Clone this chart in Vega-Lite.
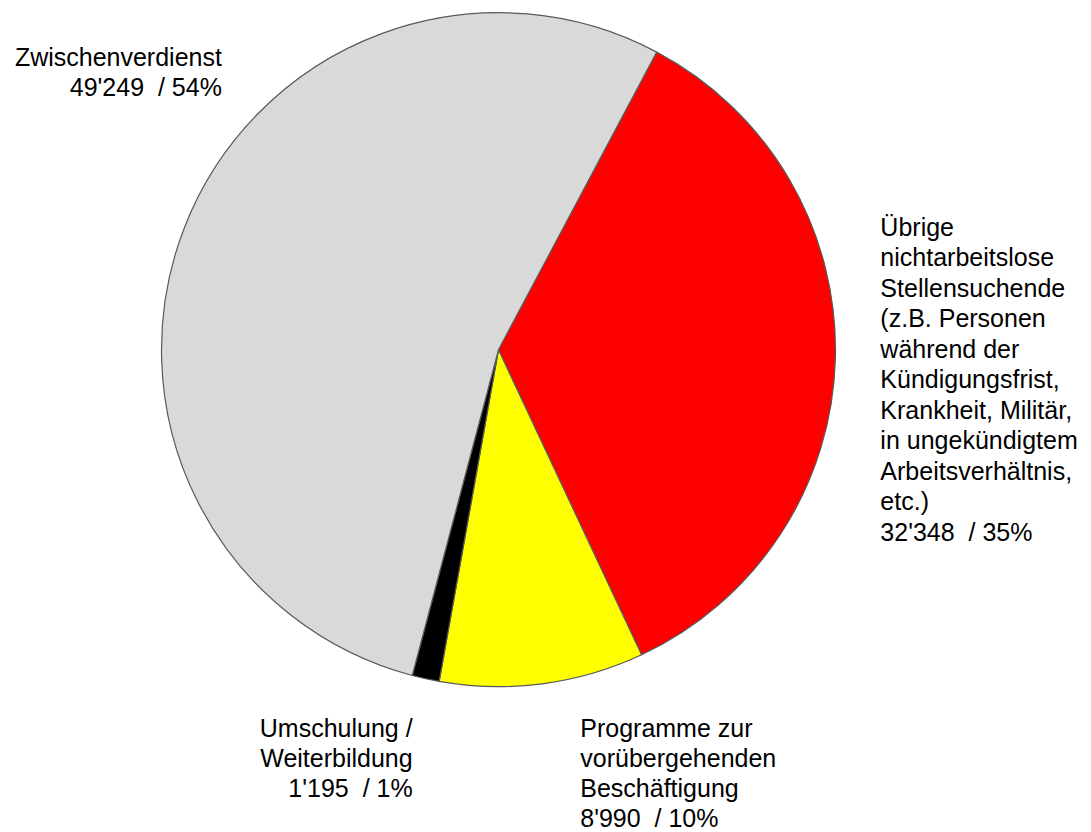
{
  "$schema": "https://vega.github.io/schema/vega-lite/v6.json",
  "width": 674,
  "height": 674,
  "autosize": {"type": "none"},
  "padding": {"left": 161.5, "top": 12.7, "right": 255.5, "bottom": 145.3},
  "background": "white",
  "config": {"view": {"stroke": null}},
  "data": {
    "values": [
      {"cat": "Uebrige", "ord": 1, "value": 32348, "label": "Übrige\nnichtarbeitslose\nStellensuchende\n(z.B. Personen\nwährend der\nKündigungsfrist,\nKrankheit, Militär,\nin ungekündigtem\nArbeitsverhältnis,\netc.)\n32'348\u00a0 / 35%"},
      {"cat": "Programme", "ord": 2, "value": 8990, "label": "Programme zur\nvorübergehenden\nBeschäftigung\n8'990\u00a0 / 10%"},
      {"cat": "Umschulung", "ord": 3, "value": 1195, "label": "Umschulung /\nWeiterbildung\n1'195\u00a0 / 1%"},
      {"cat": "Zwischenverdienst", "ord": 4, "value": 49249, "label": "Zwischenverdienst\n49'249\u00a0 / 54%"}
    ]
  },
  "encoding": {
    "theta": {"field": "value", "type": "quantitative", "stack": true, "scale": {"range": [0.48869, 6.77188]}},
    "order": {"field": "ord", "type": "quantitative"}
  },
  "layer": [
    {
      "mark": {"type": "arc", "outerRadius": 337, "stroke": "#595959", "strokeWidth": 1.2},
      "encoding": {
        "color": {"field": "cat", "type": "nominal", "legend": null,
          "scale": {"domain": ["Uebrige", "Programme", "Umschulung", "Zwischenverdienst"], "range": ["#ff0000", "#ffff00", "#000000", "#d9d9d9"]}}
      }
    },
    {
      "mark": {"type": "text", "radius": 397, "align": "right", "baseline": "alphabetic", "dx": 93, "dy": -139, "fontSize": 25, "font": "Liberation Sans", "lineBreak": "\n", "lineHeight": 30, "color": "#000000"},
      "encoding": {
        "detail": {"field": "cat", "type": "nominal"},
        "text": {"condition": {"test": "datum.cat === 'Zwischenverdienst'", "field": "label", "type": "nominal"}, "value": ""}
      }
    },
    {
      "mark": {"type": "text", "radius": 397, "align": "left", "baseline": "alphabetic", "dx": -15, "dy": -124, "fontSize": 25, "font": "Liberation Sans", "lineBreak": "\n", "lineHeight": 30.5, "color": "#000000"},
      "encoding": {
        "detail": {"field": "cat", "type": "nominal"},
        "text": {"condition": {"test": "datum.cat === 'Uebrige'", "field": "label", "type": "nominal"}, "value": ""}
      }
    },
    {
      "mark": {"type": "text", "radius": 397, "align": "left", "baseline": "alphabetic", "dx": 30, "dy": -6, "fontSize": 25, "font": "Liberation Sans", "lineBreak": "\n", "lineHeight": 30, "color": "#000000"},
      "encoding": {
        "detail": {"field": "cat", "type": "nominal"},
        "text": {"condition": {"test": "datum.cat === 'Programme'", "field": "label", "type": "nominal"}, "value": ""}
      }
    },
    {
      "mark": {"type": "text", "radius": 397, "align": "right", "baseline": "alphabetic", "dx": 0, "dy": 0, "fontSize": 25, "font": "Liberation Sans", "lineBreak": "\n", "lineHeight": 30, "color": "#000000"},
      "encoding": {
        "detail": {"field": "cat", "type": "nominal"},
        "text": {"condition": {"test": "datum.cat === 'Umschulung'", "field": "label", "type": "nominal"}, "value": ""}
      }
    }
  ]
}
